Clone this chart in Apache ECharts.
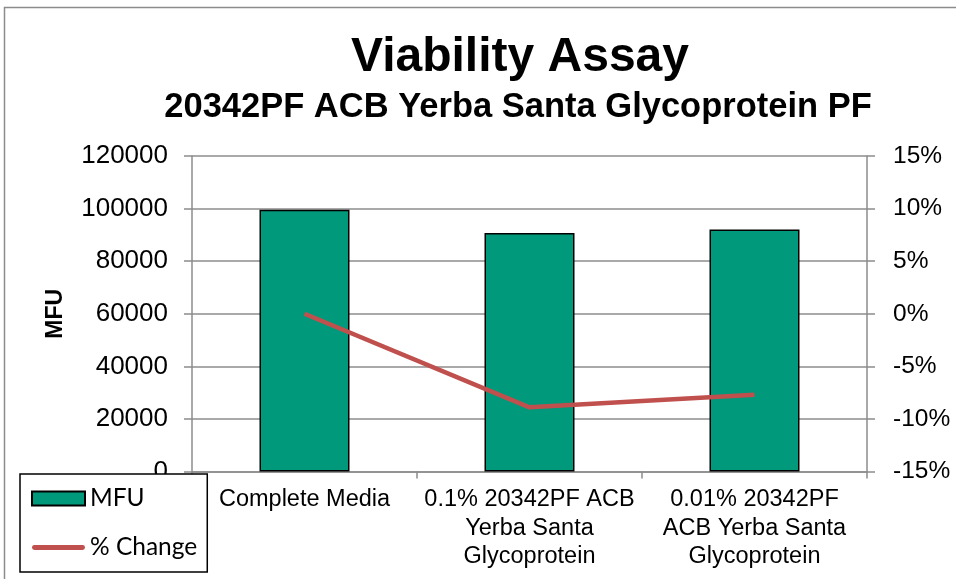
<!DOCTYPE html>
<html>
<head>
<meta charset="utf-8">
<script src="https://cdn.jsdelivr.net/npm/echarts@6/dist/echarts.min.js"></script>
<style>
  html, body { margin: 0; padding: 0; background: #fff; }
  #chart { width: 956px; height: 579px; }
</style>
</head>
<body>
<div id="chart"></div>
<script>
/* Viability assay: MFU bars + % change line on a secondary axis. */
const categories = [
  "Complete Media",
  "0.1% 20342PF ACB\nYerba Santa\nGlycoprotein",
  "0.01% 20342PF\nACB Yerba Santa\nGlycoprotein",
];
const mfu = [99600, 90760, 92020];
const pctChange = [0, -8.9, -7.7];
const leftTicks = { min: 0, max: 120000, interval: 20000 };
const rightTicks = { min: -15, max: 15, interval: 5 };

const FONT = "Liberation Sans, Arial, sans-serif";
const GRID = "#8c8c8c";

echarts.init(document.getElementById("chart")).setOption({
  animation: false,
  backgroundColor: "#fff",
  graphic: [
    { type: "rect", shape: { x: 4.5, y: 7.5, width: 1000, height: 700 }, style: { fill: "none", stroke: GRID, lineWidth: 1.5 }, silent: true, z: -1 },
  ],
  title: [
    { text: "Viability Assay", left: 515, top: 29, textAlign: "center",
      textStyle: { fontFamily: FONT, fontSize: 48, fontWeight: "bold", color: "#000" } },
    { text: "20342PF ACB Yerba Santa Glycoprotein PF", left: 513, top: 85, textAlign: "center",
      textStyle: { fontFamily: FONT, fontSize: 34.5, fontWeight: "bold", color: "#000" } },
  ],
  grid: { left: 192, right: 89, top: 156, bottom: 107.5 },
  legend: {
    orient: "vertical", left: 20, top: 474,
    padding: [12, 10, 12, 11], itemGap: 24, itemWidth: 53, itemHeight: 14,
    borderColor: "#000", borderWidth: 1.5, backgroundColor: "#fff",
    textStyle: { fontFamily: "Lato, Open Sans, sans-serif", fontSize: 24.5, color: "#000" },
    data: [
      { name: "MFU", icon: "rect" },
      { name: "% Change", icon: "path://M0,0 M0,14 M2,4.5 L51,4.5 A2.5,2.5 0 0 1 51,9.5 L2,9.5 A2.5,2.5 0 0 1 2,4.5 Z M53,14" },
    ],
    z: 10,
  },
  xAxis: {
    type: "category", data: categories,
    axisLine: { lineStyle: { color: GRID, width: 1.5 } },
    axisTick: { show: true, length: 7, alignWithLabel: false, lineStyle: { color: GRID, width: 1.5 } },
    axisLabel: { fontFamily: FONT, fontSize: 23.5, color: "#000", lineHeight: 28.5, margin: 14, interval: 0 },
  },
  yAxis: [
    {
      type: "value", ...leftTicks, name: "MFU", nameLocation: "middle", nameGap: 125, nameRotate: 90,
      nameTextStyle: { fontFamily: FONT, fontSize: 23, fontWeight: "bold", color: "#000" },
      axisLine: { show: true, lineStyle: { color: GRID, width: 1.5 } },
      axisTick: { show: true, length: 8, lineStyle: { color: GRID, width: 1.5 } },
      splitLine: { lineStyle: { color: GRID, width: 1.5 } },
      axisLabel: { fontFamily: FONT, fontSize: 26, color: "#000", margin: 24, formatter: (v) => String(v) },
    },
    {
      type: "value", ...rightTicks, position: "right",
      axisLine: { show: true, lineStyle: { color: GRID, width: 1.5 } },
      axisTick: { show: true, length: 8, lineStyle: { color: GRID, width: 1.5 } },
      splitLine: { show: false },
      axisLabel: { fontFamily: FONT, fontSize: 24.5, color: "#000", margin: 26, formatter: (v) => v + "%" },
    },
  ],
  series: [
    {
      name: "MFU", type: "bar", data: mfu, barWidth: "40%",
      itemStyle: { color: "#00997b", borderColor: "#000", borderWidth: 1.5 },
    },
    {
      name: "% Change", type: "line", yAxisIndex: 1, data: pctChange,
      symbol: "none", lineStyle: { color: "#c0504d", width: 4.5 }, itemStyle: { color: "#c0504d" },
    },
  ],
});
</script>
</body>
</html>
